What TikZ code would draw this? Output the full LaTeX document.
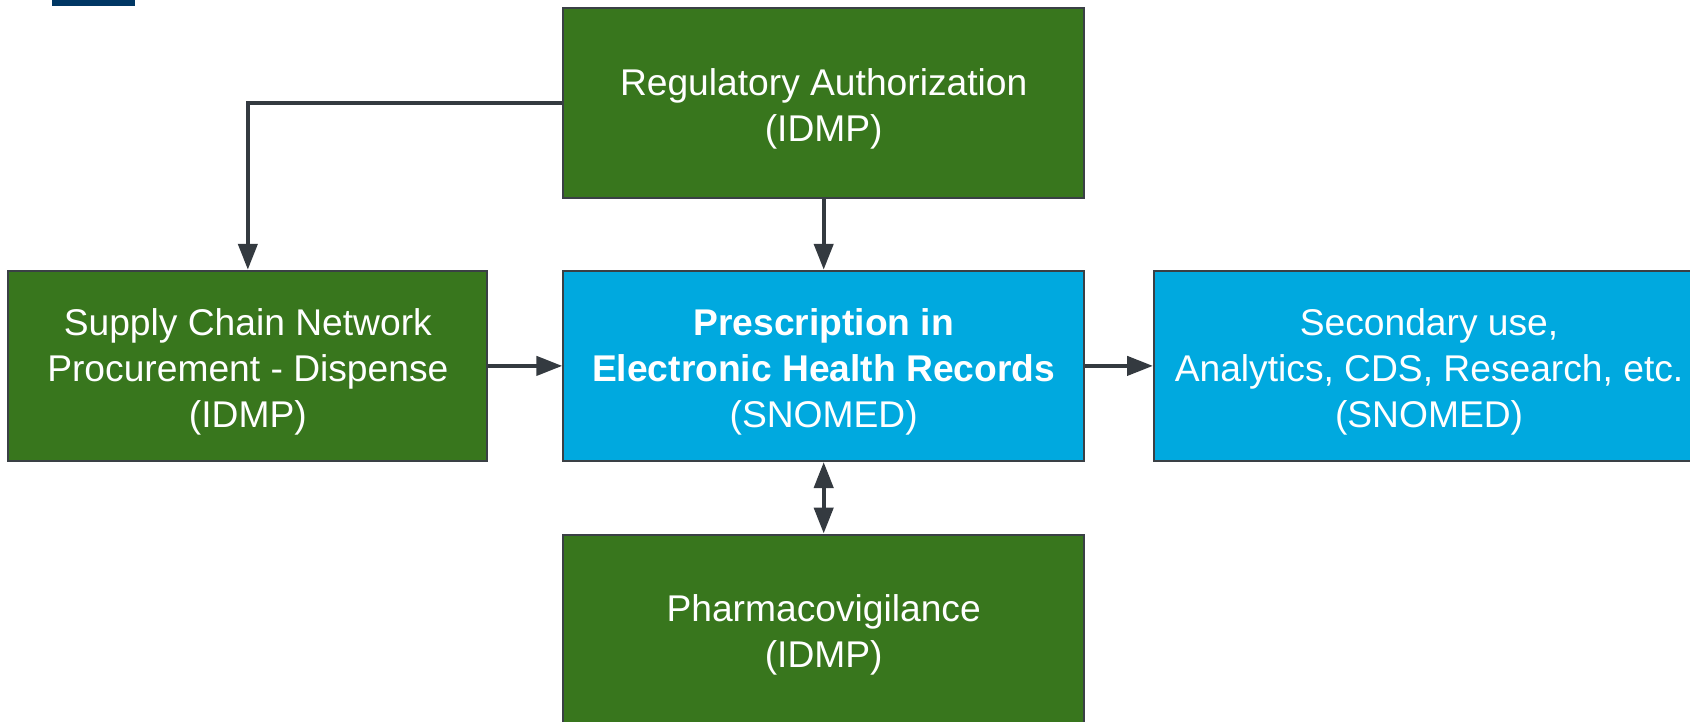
\documentclass[tikz,border=0pt]{standalone}
\usepackage{fontspec}
\setmainfont{Liberation Sans}
\usetikzlibrary{positioning,arrows.meta}
\definecolor{boxgreen}{HTML}{38761D}
\definecolor{boxblue}{HTML}{00A9DF}
\definecolor{edgegray}{HTML}{3A4045}
\definecolor{linkgray}{HTML}{343A40}
\definecolor{navy}{HTML}{003764}
\newcommand{\lift}{\rule{0pt}{38pt}}
\begin{document}
\begin{tikzpicture}[box/.style = {draw=edgegray, line width=2pt, minimum width=520.7pt, minimum height=190.3pt, text=white, align=center, font=\fontsize{37.2}{46}\selectfont},
                    greenbox/.style = {box, fill=boxgreen},
                    bluebox/.style = {box, fill=boxblue},
                    link/.style = {draw=linkgray, line width=4.3pt, -{Triangle[length=26pt,width=19pt]}}]
            \coordinate (tl) at (-823.7pt,365.9pt);
            \useasboundingbox (tl) rectangle ([xshift=1690pt,yshift=-721pt]tl);
            \clip (tl) rectangle ([xshift=1690pt,yshift=-721pt]tl);
            \fill[navy] ([xshift=52pt,yshift=2pt]tl) rectangle ([xshift=135pt,yshift=-6.5pt]tl);
            \node[bluebox] (presc) at (0,0) {\lift\textbf{Prescription in}\\ \textbf{Electronic Health Records}\\ (SNOMED)};
            \node[greenbox] (reg) [above=70.5pt of presc] {\lift Regulatory Authorization\\ (IDMP)};
            \node[greenbox, minimum width=479pt] (supply) [left=74pt of presc] {\lift Supply Chain Network\\ Procurement - Dispense\\ (IDMP)};
            \node[bluebox, minimum width=550pt] (second) [right=68pt of presc] {\lift Secondary use,\\ Analytics, CDS, Research, etc.\\ (SNOMED)};
            \node[greenbox] (pharma) [below=71.5pt of presc] {\lift Pharmacovigilance\\ (IDMP)};
            \draw[link] (reg.west) -| (supply.north);
            \draw[link] (reg) -- (presc);
            \draw[link] (supply) -- (presc);
            \draw[link] (presc) -- (second);
            \draw[link, {Triangle[length=26pt,width=19pt]}-{Triangle[length=26pt,width=19pt]}] (presc) -- (pharma);
        \end{tikzpicture}
\end{document}
